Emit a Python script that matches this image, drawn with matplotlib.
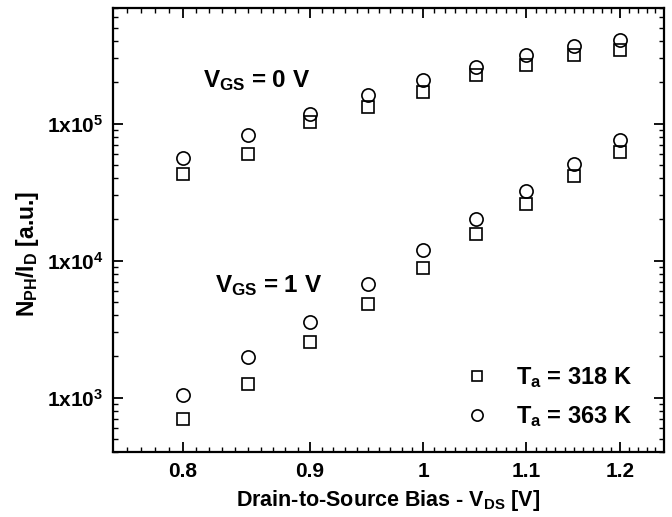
import numpy as np
import matplotlib.pyplot as plt
from matplotlib.ticker import FixedLocator, NullFormatter

plt.rcParams['font.family'] = 'Liberation Sans'
plt.rcParams['font.weight'] = 'bold'
plt.rcParams['axes.labelweight'] = 'bold'
plt.rcParams['mathtext.fontset'] = 'custom'
plt.rcParams['mathtext.rm'] = 'Liberation Sans:bold'
plt.rcParams['mathtext.it'] = 'Liberation Sans:bold'
plt.rcParams['mathtext.bf'] = 'Liberation Sans:bold'

# Drain-to-source bias [V]
vds = [0.8, 0.85, 0.9, 0.95, 1.0, 1.05, 1.1, 1.15, 1.2]

# N_PH / I_D, V_GS = 0 V
vgs0_318 = [43e3, 60.5e3, 103e3, 133e3, 171e3, 227e3, 268e3, 318e3, 345e3]
vgs0_363 = [56e3, 83e3, 118e3, 163e3, 209e3, 260e3, 318e3, 369e3, 408e3]

# N_PH / I_D, V_GS = 1 V
vgs1_318 = [692, 1260, 2550, 4830, 8900, 15700, 25900, 41500, 62500]
vgs1_363 = [1050, 1990, 3570, 6750, 12000, 20200, 32300, 50700, 76500]

xticks = [0.8, 0.9, 1.0, 1.1, 1.2]
xticklabels = ['0.8', '0.9', '1', '1.1', '1.2']
yticks = [1e3, 1e4, 1e5]
yticklabels = [r'1x10$^{3}$', r'1x10$^{4}$', r'1x10$^{5}$']

fig = plt.figure(figsize=(6.72, 5.17), dpi=100)
ax = fig.add_axes([113 / 672, 65 / 517, 551 / 672, 444 / 517])

sq = dict(marker='s', ms=8.5, mfc='none', mec='black', mew=1.2, ls='none')
ci = dict(marker='o', ms=9.5, mfc='none', mec='black', mew=1.2, ls='none')

ax.plot(vds, vgs0_318, **sq, label=r'$T_a$ = 318 K')
ax.plot(vds, vgs0_363, **ci, label=r'$T_a$ = 363 K')
ax.plot(vds, vgs1_318, **sq)
ax.plot(vds, vgs1_363, **ci)

ax.set_xscale('log')
ax.set_yscale('log')
ax.set_xlim(0.75, 1.25)
ax.set_ylim(400, 7e5)

ax.xaxis.set_major_locator(FixedLocator(xticks))
ax.xaxis.set_minor_locator(FixedLocator(np.arange(0.76, 1.25, 0.01)))
ax.xaxis.set_minor_formatter(NullFormatter())
ax.set_xticks(xticks, xticklabels)
ax.set_yticks(yticks, yticklabels)
ax.yaxis.set_minor_formatter(NullFormatter())

for s in ax.spines.values():
    s.set_linewidth(1.6)
ax.tick_params(which='both', direction='in', top=True, right=True, labelsize=15)
ax.tick_params(which='major', length=7, width=1.3, pad=7)
ax.tick_params(which='minor', length=3.5, width=1.0)

ax.set_xlabel(r'Drain-to-Source Bias - $V_{DS}$ [V]', fontsize=15.5, labelpad=5)
ax.set_ylabel(r'$N_{PH}/I_D$ [a.u.]', fontsize=16.5)
ax.yaxis.set_label_coords(-0.13, 0.446)

ax.text(0.163, 0.822, r'$V_{GS}$ = 0 V', transform=ax.transAxes, fontsize=17.5)
ax.text(0.185, 0.36, r'$V_{GS}$ = 1 V', transform=ax.transAxes, fontsize=17.5)

ax.legend(loc='lower right', bbox_to_anchor=(0.96, 0.03), frameon=False,
          fontsize=17, markerscale=0.85, handlelength=1.0, handletextpad=1.15,
          labelspacing=0.6, borderaxespad=0)

fig.savefig('out.png', dpi=100)
